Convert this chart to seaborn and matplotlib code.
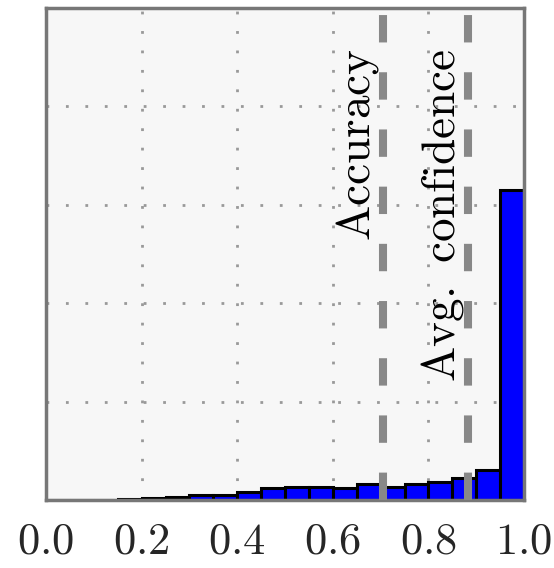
import numpy as np
import pandas as pd
import matplotlib
matplotlib.use("Agg")
import matplotlib.pyplot as plt
import seaborn as sns

# ---- data ----
bin_centers = [0.025, 0.075, 0.125, 0.175, 0.225, 0.275, 0.325, 0.375,
               0.425, 0.475, 0.525, 0.575, 0.625, 0.675, 0.725, 0.775,
               0.825, 0.875, 0.925, 0.975]
fraction = [0.0003, 0.0003, 0.0005, 0.002, 0.004, 0.0055, 0.010, 0.010,
            0.017, 0.024, 0.027, 0.027, 0.025, 0.032, 0.027, 0.032,
            0.036, 0.044, 0.060, 0.63]
accuracy = 0.705
avg_confidence = 0.883
xtick_vals = [0.0, 0.2, 0.4, 0.6, 0.8, 1.0]
xtick_labels = ["0.0", "0.2", "0.4", "0.6", "0.8", "1.0"]

df = pd.DataFrame({"conf": bin_centers, "frac": fraction})

sns.set_style("white")
plt.rcParams["mathtext.fontset"] = "cm"
plt.rcParams["font.family"] = ["DejaVu Serif"]

fig = plt.figure(figsize=(5.54, 5.68), dpi=100)
ax = fig.add_axes([46 / 554, 68 / 568, 478 / 554, 492 / 568])
ax.set_facecolor("#f7f7f7")

sns.histplot(data=df, x="conf", weights="frac", bins=20, binrange=(0, 1),
             stat="count", color="#0000ff", alpha=1.0, edgecolor="black",
             linewidth=2.2, ax=ax, zorder=2)

for v in [0.2, 0.4, 0.6, 0.8]:
    ax.axvline(v, color="#999999", linestyle=(0, (1, 6)), lw=2.0, zorder=1)
    ax.axhline(v, color="#999999", linestyle=(0, (1, 6)), lw=2.0, zorder=1)

for v in [accuracy, avg_confidence]:
    ax.axvline(v, color="#888888", lw=5.8, linestyle=(0, (3.4, 3.7)),
               solid_capstyle="butt", dash_capstyle="butt", zorder=3)

ax.text(accuracy - 0.004, 0.918, r"$\mathrm{Accuracy}$", rotation=90,
        ha="right", va="top", fontsize=34, color="black", zorder=2.5)
ax.text(avg_confidence - 0.004, 0.918, r"$\mathrm{Avg.\ confidence}$", rotation=90,
        ha="right", va="top", fontsize=34, color="black", zorder=2.5)

ax.set_xlim(0, 1)
ax.set_ylim(0, 1)
ax.set_xticks(xtick_vals)
ax.set_xticklabels([r"$" + t + "$" for t in xtick_labels], fontsize=32)
ax.set_yticks([])
ax.tick_params(axis="x", length=0, pad=14)
ax.set_xlabel("")
ax.set_ylabel("")
for s in ax.spines.values():
    s.set_color("#777777")
    s.set_linewidth(2.5)
    s.set_visible(True)

fig.savefig("out.png", dpi=100)
